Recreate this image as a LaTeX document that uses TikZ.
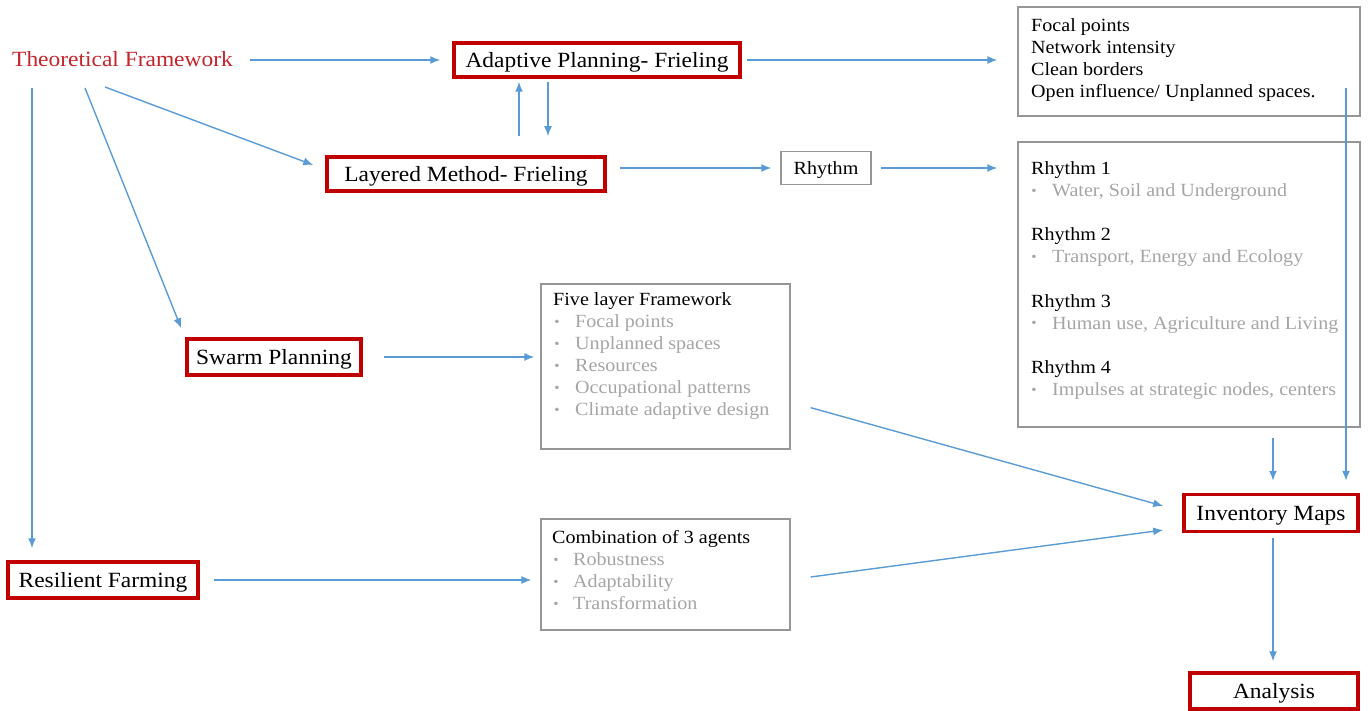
\documentclass[tikz,border=0pt]{standalone}
\usepackage{fontspec}
\setmainfont[FakeStretch=1.08]{Liberation Serif}
\usepackage{xcolor}
\usepackage{tikz}
\usetikzlibrary{arrows.meta}

\definecolor{flowblue}{RGB}{91,155,213}
\definecolor{boxred}{RGB}{192,0,0}
\definecolor{titlered}{RGB}{196,36,44}
\definecolor{softgray}{RGB}{165,165,165}
\definecolor{framegray}{RGB}{150,150,150}

\begin{document}
\begin{tikzpicture}[x=1pt,y=-1pt,
  lbl/.style={font=\fontsize{21.7}{26}\selectfont,inner sep=0pt,text height=15.6pt,text depth=0pt},
  sub/.style={font=\fontsize{18.6}{22}\selectfont,inner sep=0pt,anchor=west,text height=13pt,text depth=0pt},
  dim/.style={sub,text=softgray},
  dot/.style={font=\fontsize{14}{15}\selectfont,text=softgray,inner sep=0pt,yshift=-2pt},
  redbox/.style={lbl,draw=boxred,line width=3.5pt,fill=white},
  graybox/.style={draw=framegray,line width=1.3pt},
  flow/.style={draw=flowblue,line width=1.4pt,-{Latex[length=10pt,width=8pt]}}]
  \useasboundingbox (0,0) rectangle (1372,711);

  % main blocks
  \node[lbl,text=titlered,anchor=west] (tf) at (12,59) {Theoretical Framework};
  \node[redbox,minimum width=286pt,minimum height=34pt] (ap) at (597,60) {Adaptive Planning- Frieling};
  \node[redbox,minimum width=278pt,minimum height=34pt] (lm) at (466,174) {Layered Method- Frieling};
  \node[redbox,minimum width=174pt,minimum height=36pt] (sp) at (274,357) {Swarm Planning};
  \node[redbox,minimum width=190pt,minimum height=36pt] (rf) at (103,580) {Resilient Farming};
  \node[redbox,minimum width=174pt,minimum height=37pt] (im) at (1271,513) {Inventory Maps};
  \node[redbox,minimum width=168pt,minimum height=36pt] (an) at (1274,691) {Analysis};
  \node[graybox,sub,anchor=center,minimum width=90pt,minimum height=33pt] (rh) at (826,168) {Rhythm};

  % grey lists
  \node[graybox,minimum width=342pt,minimum height=109pt] (fp) at (1189,61.5) {};
  \foreach \t [count=\n] in {Focal points,Network intensity,Clean borders,Open influence/ Unplanned spaces.}
    \node[sub] (fp\n) at (1031,3+22*\n) {\t};

  \node[graybox,minimum width=342pt,minimum height=285pt] (rb) at (1189,284.5) {};
  \foreach \t [count=\n] in {{Water, Soil and Underground},{Transport, Energy and Ecology},{Human use, Agriculture and Living},{Impulses at strategic nodes, centers}}{
    \node[sub] (rt\n) at (1031,101.7+66.3*\n) {Rhythm \n};
    \node[dot] (rd\n) at (1034,123.7+66.3*\n) {\textbullet};
    \node[dim] (rl\n) at (1052,123.7+66.3*\n) {\t};
  }

  \node[graybox,minimum width=249pt,minimum height=165pt] (fl) at (665.5,366.5) {};
  \node[sub] (flt) at (553,299) {Five layer Framework};
  \foreach \t [count=\n] in {Focal points,Unplanned spaces,Resources,Occupational patterns,Climate adaptive design}{
    \node[dot] (fd\n) at (557,299+22*\n) {\textbullet};
    \node[dim] (fl\n) at (575,299+22*\n) {\t};
  }

  \node[graybox,minimum width=249pt,minimum height=111pt] (cb) at (665.5,574.5) {};
  \node[sub] (cbt) at (552,537) {Combination of 3 agents};
  \foreach \t [count=\n] in {Robustness,Adaptability,Transformation}{
    \node[dot] (cd\n) at (556,537+22*\n) {\textbullet};
    \node[dim] (cb\n) at (573,537+22*\n) {\t};
  }

  % connectors
  \coordinate (ta) at (105,87);
  \coordinate (tb) at (85,88);
  \coordinate (tc) at (32,88);
  \coordinate (fe) at (1346,88);
  \draw[flow,shorten <=17pt,shorten >=12pt] (tf.east |- ap) -- (ap);
  \draw[flow] (ta) -- ([shift={(-12,-9)}]lm.west);
  \draw[flow] (tb) -- ([shift={(-4,-9)}]sp.north west);
  \draw[flow,shorten >=12pt] (tc) -- (tc |- rf.north);
  \draw[flow,shorten <=5pt,shorten >=20pt] (ap.east) -- (ap.east -| fp.west);
  \draw[flow,shorten <=19pt,shorten >=3pt] ([xshift=-78pt]ap.south |- lm.north) -- ([xshift=-78pt]ap.south);
  \draw[flow,shorten <=3pt,shorten >=19pt] ([xshift=-49pt]ap.south) -- ([xshift=-49pt]ap.south |- lm.north);
  \draw[flow,shorten <=13pt,shorten >=9pt] (lm.east |- rh.west) -- (rh.west);
  \draw[flow,shorten <=9pt,shorten >=20pt] (rh.east) -- (rh.east -| rb.west);
  \draw[flow,shorten <=21pt,shorten >=6pt] (sp.east) -- (sp.east -| fl.west);
  \draw[flow,shorten <=14pt,shorten >=9pt] (rf.east) -- (rf.east -| cb.west);
  \draw[flow] ([shift={(20,-42)}]fl.south east) -- ([shift={(-19,-7)}]im.west);
  \draw[flow] ([shift={(20,2.5)}]cb.east) -- ([shift={(-19,17)}]im.west);
  \draw[flow,shorten <=10pt,shorten >=12pt] ([xshift=2pt]rb.south -| im.north) -- ([xshift=2pt]im.north);
  \draw[flow,shorten >=12pt] (fe) -- (fe |- im.north);
  \draw[flow,shorten <=5pt,shorten >=10pt] ([xshift=2pt]im.south) -- ([xshift=2pt]im.south |- an.north);
\end{tikzpicture}
\end{document}
